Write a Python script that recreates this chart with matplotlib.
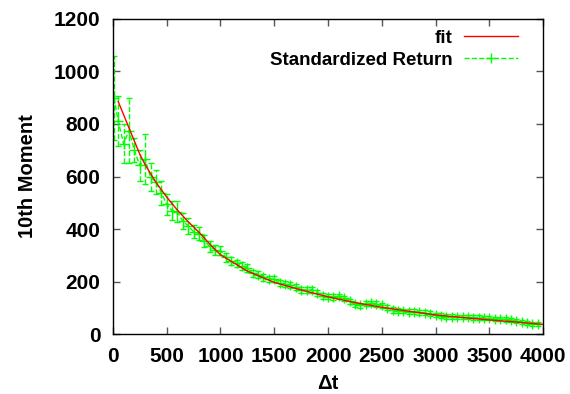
import matplotlib
matplotlib.use('Agg')
import matplotlib.pyplot as plt
from matplotlib.lines import Line2D

# 標準化リターンの10次モーメント
dt = [10, 50, 100, 150, 200, 250, 300, 350, 400, 450,
      500, 550, 600, 650, 700, 750, 800, 850, 900, 950,
      1000, 1050, 1100, 1150, 1200, 1250, 1300, 1350, 1400, 1450,
      1500, 1550, 1600, 1650, 1700, 1750, 1800, 1850, 1900, 1950,
      2000, 2050, 2100, 2150, 2200, 2250, 2300, 2350, 2400, 2450,
      2500, 2550, 2600, 2650, 2700, 2750, 2800, 2850, 2900, 2950,
      3000, 3050, 3100, 3150, 3200, 3250, 3300, 3350, 3400, 3450,
      3500, 3550, 3600, 3650, 3700, 3750, 3800, 3850, 3900, 3950]
moment = [900, 810, 725, 775, 700, 642, 665, 598, 580, 538,
          495, 470, 466, 430, 412, 390, 382, 355, 334, 320,
          318, 292, 277, 269, 259, 252, 231, 226, 217, 210,
          210, 194, 190, 186, 180, 169, 168, 169, 158, 145,
          143, 142, 144, 137, 125, 113, 110, 116, 117, 115,
          110, 100, 92, 89, 88, 86, 85, 83, 81, 78,
          73, 70, 67, 66, 65, 64, 64, 63, 63, 62,
          60, 59, 57, 56, 54, 50, 46, 42, 40, 39]
moment_err = [160, 95, 75, 125, 45, 60, 95, 55, 45, 45,
              40, 35, 40, 30, 30, 25, 25, 22, 20, 18,
              16, 16, 15, 15, 15, 14, 14, 14, 13, 13,
              13, 12, 12, 12, 12, 12, 11, 11, 11, 11,
              11, 11, 10, 10, 10, 10, 10, 10, 10, 10,
              10, 10, 10, 9, 9, 9, 9, 9, 9, 9,
              9, 9, 9, 9, 9, 8, 8, 8, 8, 8,
              8, 8, 8, 8, 8, 8, 8, 8, 8, 8]

# フィット曲線
fit_dt = [50, 100, 150, 200, 250, 300, 400, 500, 600, 700, 800, 900,
          1000, 1250, 1500, 1750, 2000, 2250, 2500, 2750, 3000, 3250,
          3500, 3750, 4000]
fit_val = [885, 835, 785, 735, 685, 645, 578, 522, 472, 428, 388, 343,
           302, 240, 197, 168, 142, 120, 102, 87, 73, 63,
           54, 46, 37]

plt.rcParams['font.family'] = ['Liberation Sans', 'DejaVu Sans']
plt.rcParams['font.weight'] = 'bold'

fig = plt.figure(figsize=(5.7, 3.94), dpi=100)
ax = fig.add_axes([0.198, 0.152, 0.755, 0.8])

green = '#00ff00'
ax.plot(fit_dt, fit_val, color='#ff0000', lw=1.0, zorder=3)
eb = ax.errorbar(dt, moment, yerr=moment_err, color=green, ecolor=green,
                 lw=1.0, ls='--', elinewidth=1.0, capsize=2.5,
                 marker='+', markersize=7, markeredgewidth=1.0, zorder=2)
eb[-1][0].set_linestyle('--')

ax.set_xlim(0, 4000)
ax.set_ylim(0, 1200)
ax.set_xticks(range(0, 4001, 500))
ax.set_yticks(range(0, 1201, 200))
ax.tick_params(direction='in', length=5, width=1, color='#555555',
               top=True, right=True, labelsize=15)
ax.tick_params(axis='x', pad=9)
ax.tick_params(axis='y', pad=9)
for sp in ax.spines.values():
    sp.set_linewidth(1.0)

ax.set_xlabel('Δt', fontsize=14.5, fontweight='bold', labelpad=6)
ax.set_ylabel('10th Moment', fontsize=14.5, fontweight='bold', labelpad=12)

# 凡例
h_fit = Line2D([], [], color='#ff0000', lw=1.0)
h_dat = Line2D([], [], color=green, lw=1.0, ls='--', marker='+',
               markersize=7)
ax.legend([h_fit, h_dat], ['fit', 'Standardized Return'], loc='upper right',
          frameon=False, markerfirst=False, fontsize=13.5, handlelength=2.9,
          handletextpad=0.6, labelspacing=0.25, borderaxespad=0.0,
          bbox_to_anchor=(0.96, 0.99))

fig.savefig('out.png', dpi=100)
